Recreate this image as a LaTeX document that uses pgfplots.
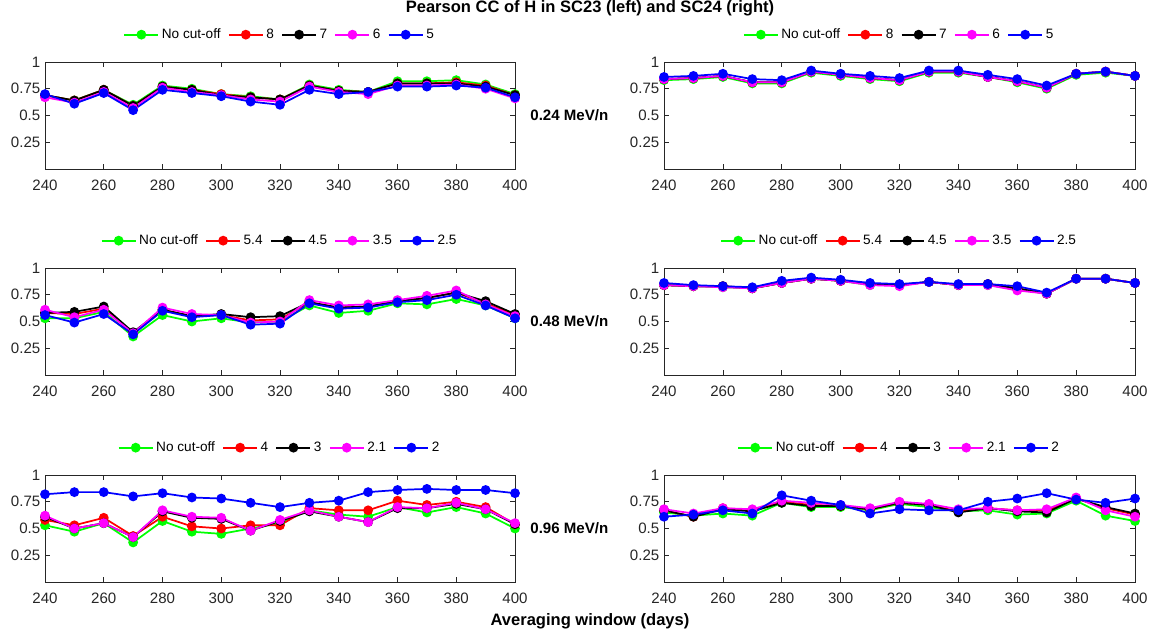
\documentclass[border=0pt]{standalone}
\usepackage{pgfplots}
\usepackage{pgfplotstable}
\pgfplotsset{compat=1.18}
\usepackage{fontspec}
\setmainfont{Liberation Sans}

\definecolor{mgreen}{rgb}{0,1,0}
\definecolor{mred}{rgb}{1,0,0}
\definecolor{mblack}{rgb}{0,0,0}
\definecolor{mmag}{rgb}{1,0,1}
\definecolor{mblue}{rgb}{0,0,1}
\definecolor{axgray}{rgb}{0.15,0.15,0.15}

\newcommand\ticksfont{\fontsize{11.3}{13}\selectfont}
\newcommand\legfont{\fontsize{10.2}{12}\selectfont}
\newcommand\lblfont{\fontsize{11.3}{13}\selectfont\bfseries}
\newcommand\titfont{\fontsize{12.4}{14}\selectfont\bfseries}

% columns: x, g (No cut-off), r, k, m, b
\pgfplotstableread{
x g r k m b
240 0.69 0.69 0.69 0.67 0.70
250 0.64 0.64 0.64 0.62 0.61
260 0.74 0.74 0.74 0.72 0.71
270 0.60 0.59 0.59 0.57 0.55
280 0.78 0.77 0.77 0.76 0.74
290 0.75 0.74 0.74 0.72 0.71
300 0.70 0.70 0.69 0.69 0.68
310 0.68 0.67 0.67 0.65 0.63
320 0.65 0.65 0.65 0.63 0.60
330 0.79 0.78 0.78 0.77 0.74
340 0.74 0.73 0.73 0.72 0.70
350 0.72 0.72 0.72 0.70 0.72
360 0.82 0.80 0.80 0.78 0.77
370 0.82 0.80 0.80 0.78 0.77
380 0.83 0.81 0.80 0.79 0.78
390 0.79 0.78 0.77 0.75 0.76
400 0.70 0.69 0.69 0.66 0.67
}\tTL
\pgfplotstableread{
x g r k m b
240 0.83 0.84 0.84 0.84 0.86
250 0.84 0.85 0.85 0.85 0.87
260 0.86 0.87 0.87 0.87 0.89
270 0.80 0.81 0.81 0.81 0.84
280 0.80 0.81 0.81 0.81 0.83
290 0.90 0.91 0.91 0.91 0.92
300 0.87 0.88 0.88 0.88 0.89
310 0.84 0.85 0.85 0.85 0.87
320 0.82 0.83 0.83 0.83 0.85
330 0.90 0.91 0.91 0.91 0.92
340 0.90 0.91 0.91 0.91 0.92
350 0.86 0.86 0.86 0.86 0.88
360 0.81 0.82 0.82 0.82 0.84
370 0.75 0.76 0.76 0.76 0.78
380 0.88 0.89 0.89 0.89 0.89
390 0.90 0.91 0.91 0.91 0.91
400 0.87 0.87 0.87 0.87 0.87
}\tTR
\pgfplotstableread{
x g r k m b
240 0.53 0.58 0.58 0.61 0.56
250 0.53 0.57 0.59 0.54 0.49
260 0.59 0.62 0.64 0.61 0.57
270 0.36 0.39 0.40 0.39 0.38
280 0.56 0.61 0.61 0.63 0.60
290 0.50 0.55 0.55 0.57 0.54
300 0.53 0.56 0.57 0.56 0.56
310 0.49 0.51 0.54 0.49 0.47
320 0.50 0.52 0.55 0.50 0.48
330 0.65 0.68 0.68 0.70 0.67
340 0.58 0.63 0.63 0.65 0.62
350 0.60 0.64 0.64 0.66 0.63
360 0.67 0.69 0.69 0.70 0.68
370 0.66 0.72 0.72 0.74 0.70
380 0.71 0.77 0.77 0.79 0.75
390 0.65 0.67 0.69 0.66 0.65
400 0.53 0.56 0.57 0.55 0.53
}\tML
\pgfplotstableread{
x g r k m b
240 0.84 0.84 0.84 0.84 0.86
250 0.83 0.83 0.83 0.83 0.84
260 0.82 0.83 0.83 0.82 0.83
270 0.81 0.81 0.81 0.81 0.82
280 0.86 0.86 0.86 0.86 0.88
290 0.90 0.90 0.90 0.90 0.91
300 0.88 0.88 0.88 0.88 0.89
310 0.84 0.85 0.85 0.84 0.86
320 0.84 0.84 0.84 0.83 0.85
330 0.87 0.87 0.87 0.87 0.87
340 0.84 0.84 0.84 0.84 0.85
350 0.84 0.85 0.85 0.84 0.85
360 0.80 0.81 0.81 0.79 0.83
370 0.76 0.76 0.76 0.76 0.77
380 0.90 0.90 0.90 0.90 0.90
390 0.90 0.90 0.90 0.90 0.90
400 0.86 0.86 0.86 0.86 0.86
}\tMR
\pgfplotstableread{
x g r k m b
240 0.53 0.58 0.61 0.62 0.82
250 0.47 0.53 0.50 0.50 0.84
260 0.55 0.60 0.55 0.55 0.84
270 0.37 0.43 0.42 0.42 0.80
280 0.57 0.61 0.66 0.67 0.83
290 0.47 0.52 0.60 0.61 0.79
300 0.45 0.50 0.59 0.60 0.78
310 0.50 0.53 0.48 0.48 0.74
320 0.55 0.53 0.57 0.58 0.70
330 0.67 0.69 0.66 0.67 0.74
340 0.63 0.67 0.61 0.61 0.76
350 0.61 0.67 0.56 0.56 0.84
360 0.70 0.76 0.69 0.70 0.86
370 0.65 0.72 0.69 0.69 0.87
380 0.70 0.75 0.73 0.74 0.86
390 0.64 0.70 0.68 0.68 0.86
400 0.50 0.54 0.54 0.55 0.83
}\tBL
\pgfplotstableread{
x g r k m b
240 0.65 0.67 0.67 0.68 0.61
250 0.62 0.61 0.61 0.64 0.63
260 0.64 0.69 0.68 0.69 0.67
270 0.62 0.67 0.66 0.68 0.64
280 0.74 0.75 0.74 0.76 0.81
290 0.70 0.72 0.71 0.74 0.76
300 0.70 0.71 0.71 0.72 0.72
310 0.67 0.68 0.68 0.69 0.64
320 0.73 0.74 0.74 0.75 0.68
330 0.70 0.72 0.72 0.73 0.67
340 0.66 0.66 0.65 0.68 0.67
350 0.67 0.69 0.69 0.69 0.75
360 0.63 0.67 0.66 0.67 0.78
370 0.64 0.67 0.65 0.68 0.83
380 0.76 0.78 0.78 0.79 0.77
390 0.62 0.69 0.70 0.67 0.74
400 0.57 0.63 0.64 0.61 0.78
}\tBR

\pgfplotsset{
  ccaxis/.style={
    scale only axis, height=80.25pt,
    xmin=240, xmax=400, ymin=0, ymax=1,
    xtick={240,260,...,400}, ytick={0.25,0.5,0.75,1},
    yticklabels={0.25,0.5,0.75,1},
    tick align=inside, major tick length=4pt,
    axis line style={draw=axgray, line width=0.5pt},
    every tick/.style={draw=axgray, line width=0.5pt},
    ticklabel style={font=\ticksfont, text=axgray},
    xticklabel style={yshift=-5pt},
    /pgf/number format/assume math mode=true,
    clip=false,
    legend columns=-1,
    legend style={at={(0.5,1)}, anchor=center, yshift=20.5pt,
      draw=none, fill=none, font=\legfont, inner sep=0pt,
      /tikz/every even column/.append style={column sep=3.5pt}},
    legend image code/.code={\draw[mark repeat=2,mark phase=2,#1]
      plot coordinates {(0pt,0pt) (12.75pt,0pt) (25.5pt,0pt)};},
    every axis plot/.append style={line width=1.3pt, mark=*, mark size=3pt, mark options={solid}},
  },
  leftax/.style={ccaxis, width=352.5pt},
  rightax/.style={ccaxis, width=353.25pt},
}

\newcommand\fiveplots[1]{%
  \addplot[mgreen] table[x=x,y=g]{#1};
  \addplot[mred] table[x=x,y=r]{#1};
  \addplot[mblack] table[x=x,y=k]{#1};
  \addplot[mmag] table[x=x,y=m]{#1};
  \addplot[mblue] table[x=x,y=b]{#1};
}

\begin{document}
\begin{tikzpicture}
\path[use as bounding box] (0pt,0pt) rectangle (867pt,477pt);

% top row
\begin{axis}[leftax, at={(33.75pt,350.25pt)}, anchor=south west]
\fiveplots{\tTL}
\legend{No cut-off,8,7,6,5}
\node[anchor=west, font=\lblfont, xshift=8pt] at (rel axis cs:1,0.5) {0.24 MeV/n};
\end{axis}
\begin{axis}[rightax, at={(498pt,350.25pt)}, anchor=south west]
\fiveplots{\tTR}
\legend{No cut-off,8,7,6,5}
\end{axis}

% middle row
\begin{axis}[leftax, at={(33.75pt,195.75pt)}, anchor=south west]
\fiveplots{\tML}
\legend{No cut-off,5.4,4.5,3.5,2.5}
\node[anchor=west, font=\lblfont, xshift=8pt] at (rel axis cs:1,0.5) {0.48 MeV/n};
\end{axis}
\begin{axis}[rightax, at={(498pt,195.75pt)}, anchor=south west]
\fiveplots{\tMR}
\legend{No cut-off,5.4,4.5,3.5,2.5}
\end{axis}

% bottom row
\begin{axis}[leftax, at={(33.75pt,40.5pt)}, anchor=south west]
\fiveplots{\tBL}
\legend{No cut-off,4,3,2.1,2}
\node[anchor=west, font=\lblfont, xshift=8pt] at (rel axis cs:1,0.5) {0.96 MeV/n};
\end{axis}
\begin{axis}[rightax, at={(498pt,40.5pt)}, anchor=south west]
\fiveplots{\tBR}
\legend{No cut-off,4,3,2.1,2}
\end{axis}

\node[font=\titfont] at (442.5pt,471pt) {Pearson CC of H in SC23 (left) and SC24 (right)};
\node[font=\titfont] at (442.5pt,11pt) {Averaging window (days)};
\end{tikzpicture}
\end{document}
